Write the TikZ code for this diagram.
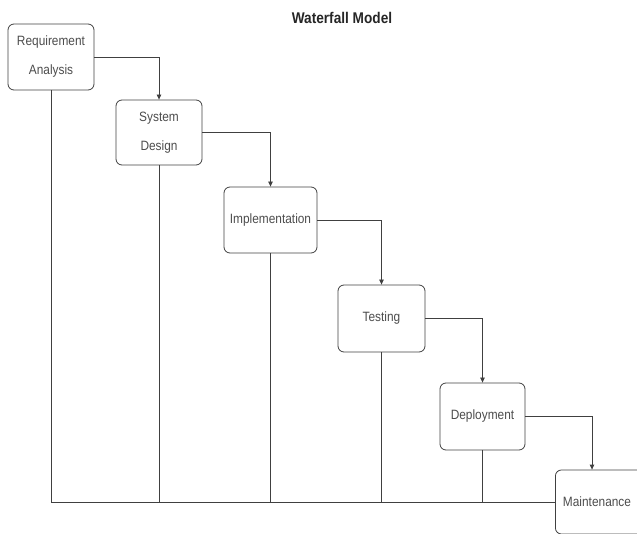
\documentclass[tikz,border=0pt]{standalone}
\usepackage{fontspec}
\setmainfont{Liberation Sans}
\newfontfamily\condfont[FakeStretch=0.88]{Liberation Sans}
\usetikzlibrary{arrows.meta}
\begin{document}
\begin{tikzpicture}[x=1pt,y=-1pt,
  box/.style={draw=black!75, line width=0.8pt, rounded corners=6pt, align=center,
    inner sep=0pt, text=black!70, font=\condfont\fontsize{13.5}{29}\selectfont},
  link/.style={draw=black!75, line width=0.8pt, -{Triangle[length=5pt,width=4.5pt]}},
  plain/.style={draw=black!75, line width=0.8pt}]
\useasboundingbox (0,0) rectangle (637,534);
\node[font=\condfont\bfseries\fontsize{15.5}{17}\selectfont, text=black!85] (title) at (342,18) {Waterfall Model};
\node[box, minimum width=86pt, minimum height=66pt] (r) at (51,57) {Requirement\\Analysis};
\node[box, minimum width=86pt, minimum height=65pt] (s) at (159,132.5) {System\\Design};
\node[box, minimum width=93pt, minimum height=66pt] (i) at (270.5,220) {Implementation};
\node[box, minimum width=87pt, minimum height=67pt] (t) at (381.5,318.5) {Testing};
\node[box, minimum width=85pt, minimum height=67pt] (d) at (482.5,416.5) {Deployment};
\node[box, minimum width=110pt, minimum height=64pt, anchor=west] (m) at (555,502) {};
\node[text=black!70, font=\condfont\fontsize{13.5}{29}\selectfont, inner sep=0pt] (mt) at (597,502) {Maintenance};
\draw[link] (r.east) -| (s.north);
\draw[link] (s.east) -| (i.north);
\draw[link] (i.east) -| (t.north);
\draw[link] (t.east) -| (d.north);
\draw[link] (d.east) -| (m.north -| 592,0);
\draw[plain] (r.south) |- (m.west);
\draw[plain] (s.south) -- (s.south |- m.west);
\draw[plain] (i.south) -- (i.south |- m.west);
\draw[plain] (t.south) -- (t.south |- m.west);
\draw[plain] (d.south) -- (d.south |- m.west);
\end{tikzpicture}
\end{document}
